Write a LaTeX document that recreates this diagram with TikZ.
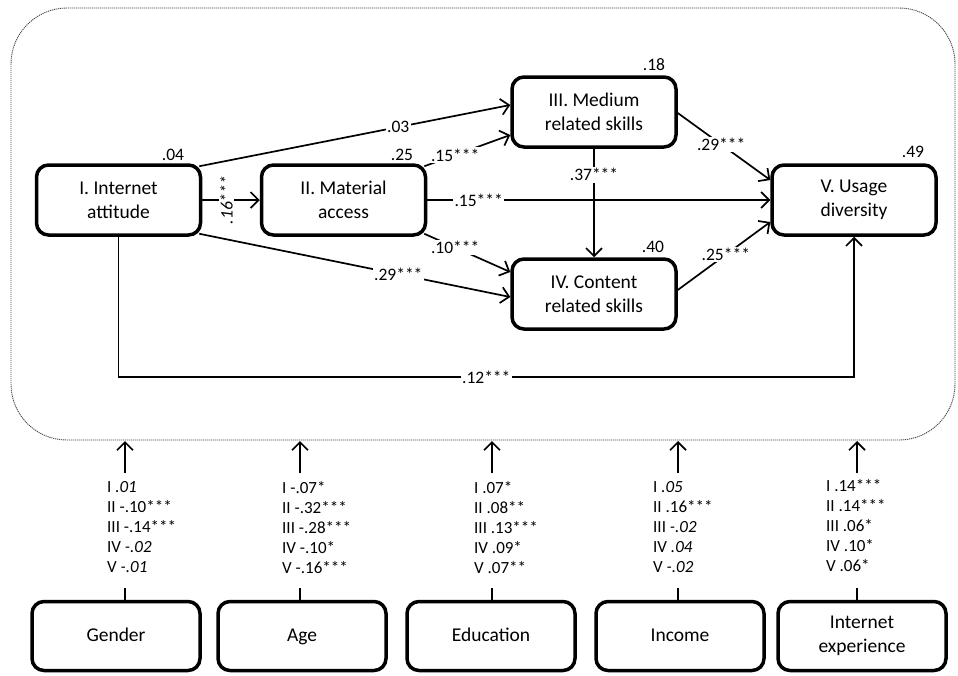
\documentclass[tikz,border=0pt]{standalone}
\usepackage{fontspec}
\setmainfont{Carlito}
\usetikzlibrary{arrows.meta}
\begin{document}
\begin{tikzpicture}[x=1pt,y=-1pt,
  box/.style={draw,line width=3.5pt,rounded corners=12pt,minimum width=164pt,minimum height=70pt,align=center,inner sep=2pt,font=\fontsize{19.5}{24}\selectfont},
  bbox/.style={box,minimum width=168pt,minimum height=69pt},
  conn/.style={line width=1.7pt,-{Straight Barb[length=8pt,width=16pt]}},
  lbl/.style={fill=white,inner sep=1.5pt,font=\fontsize{17.5}{19}\selectfont},
  rsq/.style={inner sep=0pt,font=\fontsize{17.5}{19}\selectfont},
  col/.style={align=left,anchor=north west,inner sep=0pt,font=\fontsize{17}{20}\selectfont},
  stub/.style={line width=1.7pt},
  frame/.style={draw=black!70,line width=0.9pt,dash pattern=on 1.2pt off 0.8pt,rounded corners=56pt}
]
\useasboundingbox (0,0) rectangle (958,675);
\draw[frame] (11,8) rectangle (955,440);

% main nodes
\node[box] (I)   at (118.5,200) {I. Internet\\attitude};
\node[box] (II)  at (343.5,200) {II. Material\\access};
\node[box] (III) at (594,112)   {III. Medium\\related skills};
\node[box] (IV)  at (594,294)   {IV. Content\\related skills};
\node[box] (V)   at (854,200)   {V. Usage\\diversity};

% R-squared
\node[rsq] (r1) at (173,155) {.04};
\node[rsq] (r2) at (402,155) {.25};
\node[rsq] (r3) at (654,65)  {.18};
\node[rsq] (r4) at (653,247) {.40};
\node[rsq] (r5) at (913,152) {.49};

% paths
\draw[conn] (I.east) -- node[lbl,rotate=90,pos=0.42] {\itshape .16***} (II.west);
\draw[conn] ([shift={(-3pt,-3pt)}]I.north east) -- node[lbl,pos=0.64] {.03} ([yshift=7pt]III.west);
\draw[conn] ([shift={(-3pt,3pt)}]I.south east) -- node[lbl,pos=0.64] {.29***} ([yshift=-3pt]IV.west);
\draw[conn] ([shift={(-3pt,-3pt)}]II.north east) -- node[lbl,pos=0.36] {.15***} ([yshift=-23pt]III.west);
\draw[conn] (II.east) -- node[lbl,pos=0.15] {.15***} (V.west);
\draw[conn] ([shift={(-3pt,3pt)}]II.south east) -- node[lbl,pos=0.36] {.10***} ([yshift=22pt]IV.west);
\draw[conn] (III.south) -- node[lbl,pos=0.24] {.37***} (IV.north);
\draw[conn] ([yshift=-1pt]III.east) -- node[lbl,pos=0.47] {.29***} ([yshift=20pt]V.west);
\draw[conn] ([yshift=4pt]IV.east) -- node[lbl,pos=0.52] {.25***} ([yshift=-22pt]V.west);
\coordinate (lowL) at (118.5,377);
\coordinate (lowR) at (854,377);
\draw[conn] (I.south) -- (lowL) -- node[lbl] {.12***} (lowR) -- (V.south);

% background variables
\node[bbox] (G)  at (116,636) {Gender\vphantom{dg}};
\node[bbox] (A)  at (302,636) {Age\vphantom{dg}};
\node[bbox] (E)  at (491,636) {Education\vphantom{dg}};
\node[bbox] (In) at (680,636) {Income\vphantom{dg}};
\node[bbox] (X)  at (862,636) {Internet\\experience};

\node[col] (tG) at (107,481) {I \textit{.01}\\II -.10***\\III -.14***\\IV \textit{-.02}\\V \textit{-.01}};
\node[col] (tA) at (282,481) {I -.07*\\II -.32***\\III -.28***\\IV -.10*\\V -.16***};
\node[col] (tE) at (474,481) {I .07*\\II .08**\\III .13***\\IV .09*\\V .07**};
\node[col] (tI) at (653,481) {I \textit{.05}\\II .16***\\III \textit{-.02}\\IV \textit{.04}\\V \textit{-.02}};
\node[col] (tX) at (826,479) {I .14***\\II .14***\\III .06*\\IV .10*\\V .06*};

\foreach \n/\xx in {G/125,A/300,E/492,In/678,X/857}{
  \coordinate (a\n) at (\xx,473);
  \coordinate (b\n) at (\xx,441);
  \coordinate (s\n) at (\xx,588);
  \draw[conn] (a\n) -- (b\n);
  \draw[stub] (s\n) -- (s\n |- \n.north);
}
\end{tikzpicture}
\end{document}
